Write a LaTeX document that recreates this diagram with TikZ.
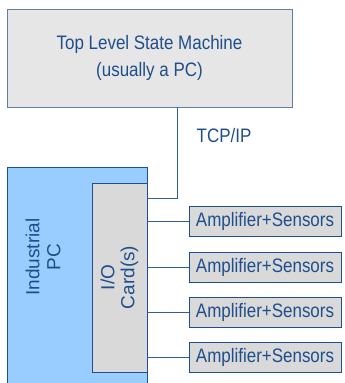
\documentclass[tikz,border=0pt]{standalone}
\usepackage{fontspec}
\setmainfont{Liberation Sans}
\newfontfamily\narrowsans{Liberation Sans}[FakeStretch=0.87]
\usepackage{tikz}
\definecolor{txtblue}{HTML}{1F4E8C}
\definecolor{lineblue}{HTML}{2F5F9A}
\definecolor{topedge}{HTML}{5E7FA8}
\definecolor{pcblue}{HTML}{99CCFF}
\definecolor{cardgray}{HTML}{D9D9D9}
\definecolor{topgray}{HTML}{E6E6E6}

\begin{document}
\begin{tikzpicture}[x=1pt,y=-1pt,
    box/.style={draw=txtblue,line width=0.8pt,inner sep=0pt,text=txtblue},
    amp/.style={box,fill=cardgray,minimum width=152pt,minimum height=30pt,
      font=\narrowsans\fontsize{19.5}{20}\selectfont},
    wire/.style={draw=lineblue,line width=0.8pt}]
  \useasboundingbox (0,0) rectangle (345,383);
  \node[box,draw=topedge,fill=topgray,minimum width=285pt,minimum height=98pt,
    align=center,font=\narrowsans\fontsize{19.5}{27}\selectfont] (top) at (149.5,58)
    {Top Level State Machine\\(usually a PC)};
  \node[box,fill=pcblue,minimum width=140pt,minimum height=232pt] (pc) at (77,283) {};
  \node[text=txtblue,rotate=90,align=center,font=\fontsize{19}{21}\selectfont]
    (pclabel) at (43,257) {Industrial\\PC};
  \node[box,fill=cardgray,minimum width=189pt,minimum height=55pt,rotate=90,
    align=center,font=\fontsize{19}{20}\selectfont] (io) at (119.5,277.5)
    {I/O\\Card(s)};
  \node[text=txtblue,font=\narrowsans\fontsize{19.5}{20}\selectfont] (tcp) at (224,136) {TCP/IP};
  \coordinate (bus) at (177,198);
  \draw[wire] (top.south -| bus) |- (pc.east |- bus);
  \foreach \i/\y in {1/221,2/267,3/312,4/357} {
    \node[amp] (amp\i) at (265,\y) {Amplifier+Sensors};
    \draw[wire] (amp\i.west) -- (pc.east |- amp\i.west);
  }
\end{tikzpicture}
\end{document}
